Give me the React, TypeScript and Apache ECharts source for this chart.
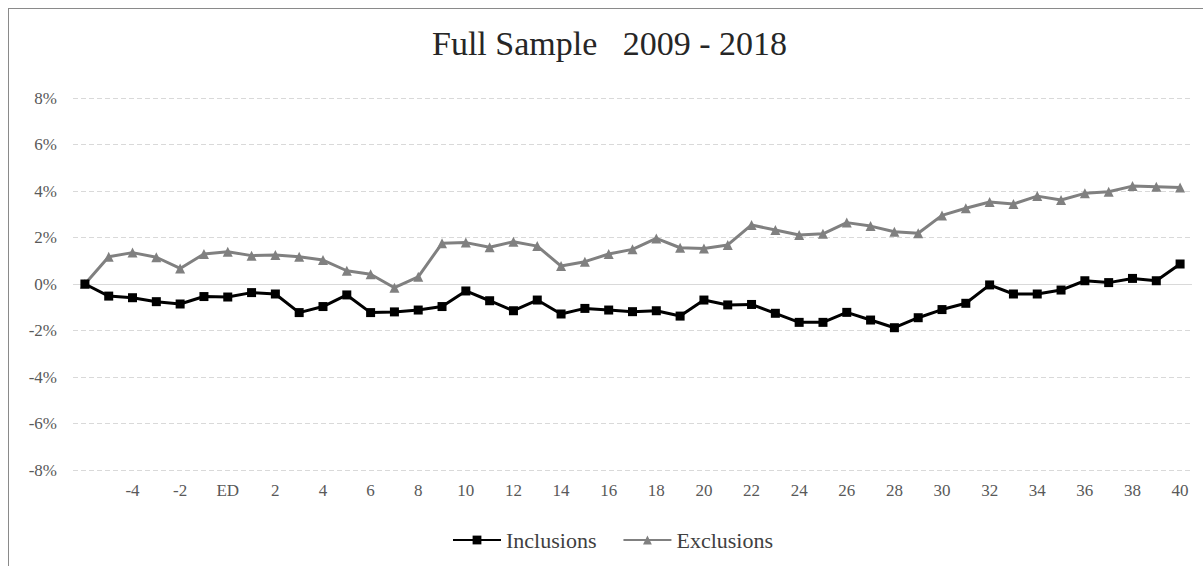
import React, { useEffect, useRef } from "react";
import * as echarts from "echarts";

const categories = [
  "-6", "-5", "-4", "-3", "-2", "-1", "ED", "1", "2", "3", "4", "5", "6", "7", "8", "9",
  "10", "11", "12", "13", "14", "15", "16", "17", "18", "19", "20", "21", "22", "23", "24",
  "25", "26", "27", "28", "29", "30", "31", "32", "33", "34", "35", "36", "37", "38", "39", "40",
];

const inclusions = [
  0, -0.52, -0.59, -0.76, -0.86, -0.54, -0.56, -0.37, -0.43, -1.23, -0.97, -0.47, -1.23, -1.2,
  -1.12, -0.97, -0.3, -0.72, -1.15, -0.69, -1.29, -1.05, -1.12, -1.19, -1.15, -1.38, -0.69,
  -0.9, -0.88, -1.26, -1.65, -1.65, -1.22, -1.55, -1.88, -1.45, -1.1, -0.83, -0.04, -0.43,
  -0.43, -0.26, 0.14, 0.06, 0.24, 0.14, 0.86,
];

const exclusions = [
  0, 1.17, 1.35, 1.15, 0.67, 1.29, 1.39, 1.22, 1.25, 1.17, 1.03, 0.57, 0.42, -0.16, 0.31, 1.75,
  1.78, 1.58, 1.82, 1.63, 0.77, 0.96, 1.29, 1.49, 1.96, 1.56, 1.53, 1.68, 2.54, 2.32, 2.11,
  2.16, 2.64, 2.49, 2.25, 2.18, 2.95, 3.26, 3.53, 3.44, 3.78, 3.61, 3.9, 3.97, 4.21, 4.18, 4.15,
];

const titleText = "Full Sample   2009 - 2018";
const FONT = "Liberation Serif";

export default function App() {
  const ref = useRef<HTMLDivElement>(null);
  useEffect(() => {
    if (!ref.current) return;
    const chart = echarts.init(ref.current, undefined, { renderer: "svg" });
    chart.setOption({
      animation: false,
      backgroundColor: "#ffffff",
      textStyle: { fontFamily: FONT },
      title: {
        text: titleText,
        left: 432,
        top: 26,
        padding: 0,
        textStyle: { fontFamily: FONT, fontSize: 34, fontWeight: "normal", color: "#262626" },
      },
      legend: {
        bottom: 15,
        left: 452,
        padding: 0,
        itemWidth: 48,
        itemHeight: 11,
        itemGap: 26,
        textStyle: { fontFamily: FONT, fontSize: 22, color: "#404040" },
        data: ["Inclusions", "Exclusions"],
      },
      grid: { left: 73, right: 11, top: 98, bottom: 96, containLabel: false },
      xAxis: {
        type: "category",
        data: categories,
        boundaryGap: true,
        axisLine: { show: false },
        axisTick: { show: false },
        axisLabel: {
          interval: (i: number) => i > 0 && i % 2 === 0,
          margin: 12,
          fontFamily: FONT,
          fontSize: 17,
          color: "#595959",
        },
        splitLine: { show: false },
      },
      yAxis: {
        type: "value",
        min: -8,
        max: 8,
        interval: 2,
        axisLine: { show: false },
        axisTick: { show: false },
        axisLabel: {
          formatter: "{value}%",
          margin: 16,
          fontFamily: FONT,
          fontSize: 17,
          color: "#595959",
        },
        splitLine: { show: true, lineStyle: { color: "#d9d9d9", type: [5, 3], width: 1 } },
      },
      series: [
        {
          name: "Exclusions",
          type: "line",
          data: exclusions,
          symbol: "triangle",
          symbolSize: 10,
          itemStyle: { color: "#808080" },
          lineStyle: { color: "#808080", width: 3 },
          z: 3,
          markLine: {
            silent: true,
            symbol: "none",
            label: { show: false },
            lineStyle: { color: "#d9d9d9", type: "solid", width: 1 },
            data: [{ yAxis: 0 }],
            z: 1,
          },
        },
        {
          name: "Inclusions",
          type: "line",
          data: inclusions,
          symbol: "rect",
          symbolSize: 9,
          itemStyle: { color: "#000000" },
          lineStyle: { color: "#000000", width: 3 },
          z: 4,
        },
      ],
    });
    return () => chart.dispose();
  }, []);

  return (
    <>
      <div
        ref={ref}
        style={{ position: "absolute", left: 0, top: 0, width: 1203, height: 566 }}
      />
      <div
        style={{
          position: "absolute",
          left: 8,
          top: 8,
          width: 1195,
          height: 558,
          boxSizing: "border-box",
          borderLeft: "1px solid #8a8a8a",
          borderTop: "1px solid #8a8a8a",
          pointerEvents: "none",
        }}
      />
    </>
  );
}
